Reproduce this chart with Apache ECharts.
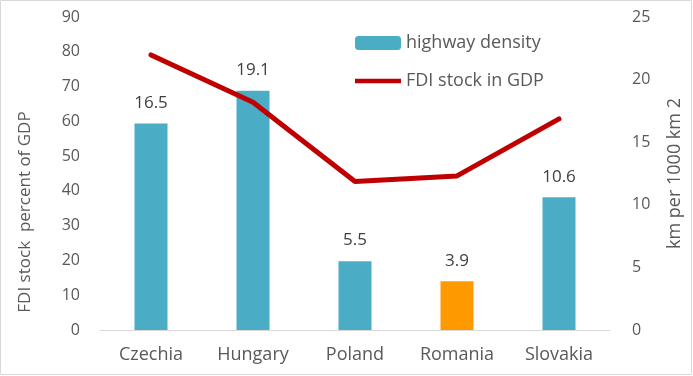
<!DOCTYPE html>
<html>
<head>
<meta charset="utf-8">
<script src="https://cdn.jsdelivr.net/npm/echarts@6/dist/echarts.min.js"></script>
<style>
html,body{margin:0;padding:0;background:#fff;}
#chart{width:693px;height:376px;}
</style>
</head>
<body>
<div id="chart"></div>
<script>
var countries = ['Czechia', 'Hungary', 'Poland', 'Romania', 'Slovakia'];
var highwayDensity = [16.5, 19.1, 5.5, 3.9, 10.6];
var fdiStock = [79.1, 65.5, 42.7, 44.3, 60.7];
var barColors = ['#4BACC6', '#4BACC6', '#4BACC6', '#FF9900', '#4BACC6'];
var leftTitle = 'FDI stock  percent of GDP';
var rightTitle = 'km per 1000 km 2';

var txt = '#595959';
var font = '"Open Sans", sans-serif';

var chart = echarts.init(document.getElementById('chart'));
chart.setOption({
    animation: false,
    textStyle: {fontFamily: font},
    graphic: [{
        type: 'rect',
        shape: {x: 0.5, y: 0.5, width: 691, height: 374},
        style: {fill: 'none', stroke: '#D9D9D9', lineWidth: 1}
    }, {
        // left axis title, sits lower than the plot centre like the original
        type: 'text',
        x: 25, y: 212,
        rotation: Math.PI / 2,
        style: {text: leftTitle, fill: txt, font: '17px "Open Sans", sans-serif',
            align: 'center', verticalAlign: 'middle'}
    }],
    grid: {left: 100, right: 83, top: 17, bottom: 46},
    legend: {
        orient: 'vertical',
        left: 350,
        top: 29,
        itemWidth: 46,
        itemHeight: 14,
        itemGap: 20,
        textStyle: {color: txt, fontSize: 18, fontFamily: font},
        data: [
            {name: 'highway density', itemStyle: {color: '#4BACC6'}},
            {name: 'FDI stock in GDP', icon: 'path://M0,0 L10,0 L10,1 L0,1 Z', itemStyle: {color: '#C00000'}}
        ]
    },
    xAxis: {
        type: 'category',
        data: countries,
        axisLine: {lineStyle: {color: '#D9D9D9'}},
        axisTick: {show: false},
        axisLabel: {color: txt, fontSize: 18, margin: 16}
    },
    yAxis: [{
        type: 'value',
        min: 0, max: 90, interval: 10,
        splitLine: {show: false},
        axisLine: {show: false},
        axisLabel: {color: txt, fontSize: 16, margin: 20}
    }, {
        type: 'value',
        min: 0, max: 25, interval: 5,
        name: rightTitle,
        nameLocation: 'middle',
        nameGap: 56,
        nameRotate: 90,
        nameTextStyle: {color: txt, fontSize: 18},
        splitLine: {show: false},
        axisLine: {show: false},
        axisLabel: {color: txt, fontSize: 16, margin: 22}
    }],
    series: [{
        name: 'highway density',
        type: 'bar',
        yAxisIndex: 1,
        barWidth: 33,
        data: highwayDensity.map(function (v, i) {
            return {value: v, itemStyle: {color: barColors[i]}};
        }),
        label: {show: true, position: 'top', distance: 12, color: '#404040', fontSize: 17}
    }, {
        name: 'FDI stock in GDP',
        type: 'line',
        yAxisIndex: 0,
        data: fdiStock,
        symbol: 'none',
        lineStyle: {color: '#C00000', width: 5, cap: 'round'},
        itemStyle: {color: '#C00000'}
    }]
});
</script>
</body>
</html>
